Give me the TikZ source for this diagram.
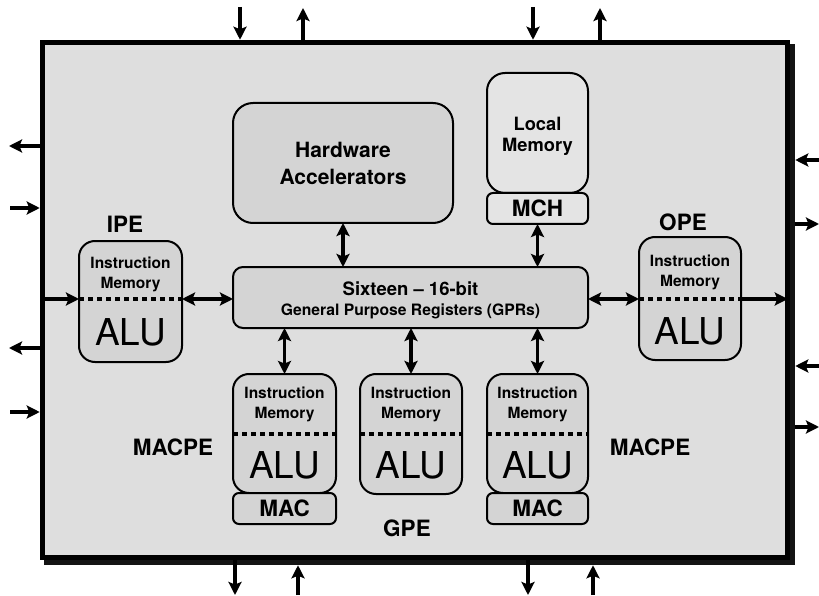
\documentclass[tikz,border=0pt]{standalone}
\usepackage{fontspec}
\setmainfont{TeX Gyre Heros}
\usetikzlibrary{arrows.meta}
\definecolor{chipbg}{HTML}{DEDEDE}
\definecolor{boxfill}{HTML}{D4D4D4}
\definecolor{memfill}{HTML}{E4E4E4}
\begin{document}
\begin{tikzpicture}[x=1pt,y=-1pt,
  blockbox/.style={draw, line width=2pt, fill=boxfill, rounded corners=#1,
    inner sep=0pt, outer sep=0pt},
  blockbox/.default=16pt,
  divider/.style={line width=3.2pt, dash pattern=on 5pt off 4pt},
  conn/.style={line width=3.6pt, -{Stealth[length=13pt,width=13pt,inset=2.5pt]}},
  dconn/.style={line width=3.6pt, {Stealth[length=13pt,width=13pt,inset=2.5pt]}-{Stealth[length=13pt,width=13pt,inset=2.5pt]}},
  imem/.style={font=\fontsize{15.5}{20}\selectfont\bfseries, align=center},
  alu/.style={font=\fontsize{37}{40}\selectfont},
  peLabel/.style={font=\fontsize{22.5}{26}\selectfont\bfseries},
  tag/.style={font=\fontsize{22.5}{26}\selectfont\bfseries}
]
\useasboundingbox (0,0) rectangle (819,596);

% chip outline with drop shadow
\fill[black!92] (44,44) rectangle (795,565);
\node[draw, line width=5.5pt, fill=chipbg, minimum width=745pt, minimum height=515pt,
  inner sep=0pt] (chip) at (415,300) {};

% hardware accelerators and local memory
\node[blockbox=20pt, minimum width=220pt, minimum height=120pt] (ha) at (343,163) {};
\node[font=\fontsize{21}{27}\selectfont\bfseries, align=center] at (ha.center) {Hardware\\Accelerators};
\node[blockbox=18pt, fill=memfill, minimum width=101pt, minimum height=120pt] (lm) at (537.5,133) {};
\node[font=\fontsize{18.3}{21}\selectfont\bfseries, align=center] at (537.5,136) {Local\\Memory};
\node[blockbox=6pt, fill=memfill, minimum width=101pt, minimum height=31pt] (mch) at (537.5,208.5) {};
\node[tag] at (mch.center) {MCH};

% register file
\node[blockbox=10pt, minimum width=355pt, minimum height=61pt] (gpr) at (410.5,297.5) {};
\node[font=\fontsize{18.5}{22}\selectfont\bfseries] at (410.5,289) {Sixteen – 16-bit};
\node[font=\fontsize{15.7}{19}\selectfont\bfseries] at (410.5,311) {General Purpose Registers (GPRs)};

% input and output PEs
\node[blockbox, minimum width=103pt, minimum height=121pt] (ipe) at (130.5,301.5) {};
\node[blockbox, minimum width=102pt, minimum height=123pt] (ope) at (690,298.5) {};
\coordinate (iodiv) at (0,299);
\draw[divider] (ipe.west |- iodiv) -- (ipe.east |- iodiv);
\draw[divider] (ope.west |- iodiv) -- (ope.east |- iodiv);
\node[imem] at (130.5,274) {Instruction\\Memory};
\node[imem] at (690,272) {Instruction\\Memory};
\node[alu] at (130.5,332) {ALU};
\node[alu] at (690,331) {ALU};
\node[peLabel] at (125,224) {IPE};
\node[peLabel] at (683,222) {OPE};

% MAC PEs and general PE
\node[blockbox, minimum width=103pt, minimum height=119pt] (pea) at (284.5,433.5) {};
\node[blockbox, minimum width=102pt, minimum height=120pt] (gpe) at (411,434) {};
\node[blockbox, minimum width=101pt, minimum height=119pt] (peb) at (537.5,433.5) {};
\node[blockbox=6pt, minimum width=103pt, minimum height=31pt] (maca) at (284.5,508.5) {};
\node[blockbox=6pt, minimum width=101pt, minimum height=31pt] (macb) at (537.5,508.5) {};
\node[tag] at (maca.center) {MAC};
\node[tag] at (macb.center) {MAC};
\coordinate (pediv) at (0,434);
\foreach \p in {pea,gpe,peb}{
  \draw[divider] (\p.west |- pediv) -- (\p.east |- pediv);
  \node[imem] at (\p.center |- 0,404) {Instruction\\Memory};
  \node[alu] at (\p.center |- 0,465) {ALU};
}
\node[peLabel] at (173,447) {MACPE};
\node[peLabel] at (650,447) {MACPE};
\node[peLabel] at (407,528) {GPE};

% internal connections
\draw[dconn] (ha.south) -- (ha.south |- gpr.north);
\draw[dconn] (mch.south) -- (mch.south |- gpr.north);
\draw[dconn] (gpr.west |- iodiv) -- (ipe.east |- iodiv);
\draw[dconn] (gpr.east |- iodiv) -- (ope.west |- iodiv);
\draw[dconn] (pea.north |- gpr.south) -- (pea.north);
\draw[dconn] (gpe.north |- gpr.south) -- (gpe.north);
\draw[dconn] (peb.north |- gpr.south) -- (peb.north);
\draw[conn] ([xshift=2.5pt]chip.west |- iodiv) -- (ipe.west |- iodiv);
\draw[conn] (ope.east |- iodiv) -- ([xshift=-2.5pt]chip.east |- iodiv);

% external ports, top
\coordinate (ta) at (240,7);
\coordinate (tb) at (303,8);
\coordinate (tc) at (533,7);
\coordinate (td) at (600,8);
\draw[conn] (ta) -- (ta |- chip.north);
\draw[conn] (tb |- chip.north) -- (tb);
\draw[conn] (tc) -- (tc |- chip.north);
\draw[conn] (td |- chip.north) -- (td);
% external ports, bottom
\coordinate (ba) at (235,595);
\coordinate (bb) at (298,595);
\coordinate (bc) at (528,595);
\coordinate (bd) at (593,595);
\draw[conn] (ba |- chip.south) -- (ba);
\draw[conn] (bb) -- ([yshift=-5pt]bb |- chip.south);
\draw[conn] (bc |- chip.south) -- (bc);
\draw[conn] (bd) -- ([yshift=-5pt]bd |- chip.south);
% external ports, left
\coordinate (la) at (9,146);
\coordinate (lb) at (10,208);
\coordinate (lc) at (9,348);
\coordinate (ld) at (10,412);
\draw[conn] (la -| chip.west) -- (la);
\draw[conn] (lb) -- (lb -| chip.west);
\draw[conn] (lc -| chip.west) -- (lc);
\draw[conn] (ld) -- (ld -| chip.west);
% external ports, right
\coordinate (ra) at (819,160);
\coordinate (rb) at (819,224);
\coordinate (rc) at (819,366);
\coordinate (rd) at (819,427);
\draw[conn] (ra) -- ([xshift=5pt]ra -| chip.east);
\draw[conn] ([xshift=5pt]rb -| chip.east) -- (rb);
\draw[conn] (rc) -- ([xshift=5pt]rc -| chip.east);
\draw[conn] ([xshift=5pt]rd -| chip.east) -- (rd);
\end{tikzpicture}
\end{document}
